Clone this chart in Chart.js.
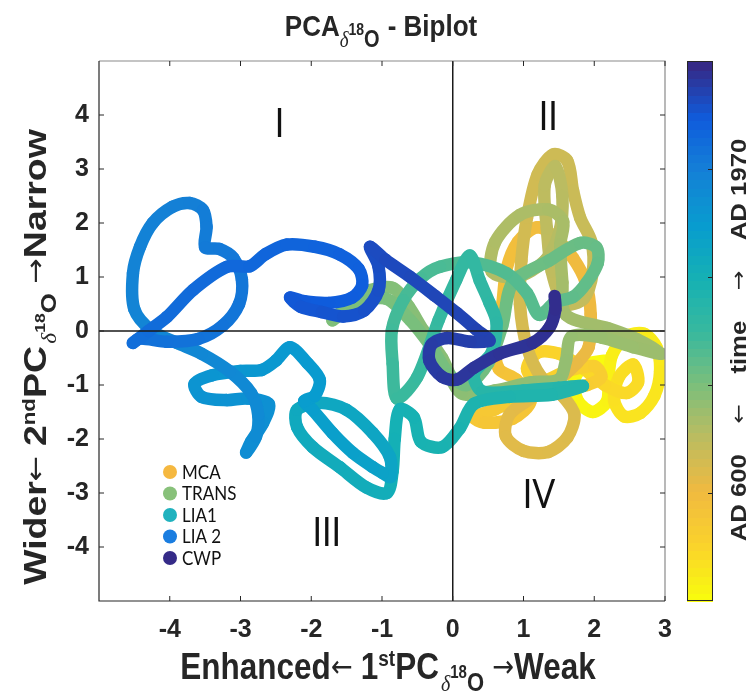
<!DOCTYPE html>
<html>
<head>
<meta charset="utf-8">
<script src="https://cdn.jsdelivr.net/npm/chart.js@4.4.0/dist/chart.umd.min.js"></script>
<style>
html, body { margin: 0; padding: 0; background: #fff; }
#wrap { width: 747px; height: 697px; }
</style>
</head>
<body>
<div id="wrap"><canvas id="biplot"></canvas></div>
<script>
// PCA d18O biplot - trajectory coloured by time (AD 600 -> AD 1970)

// legend categories
const eraNames = ['MCA', 'TRANS', 'LIA1', 'LIA 2', 'CWP'];
const eraColours = ['#f5b840', '#88c17a', '#20b2be', '#1a7de0', '#352b88'];
// years covered by each stretch of the trajectory
const eraFrom = [600, 900, 1215, 1560, 1860];
const eraTo = [900, 1215, 1560, 1860, 1970];

// trajectory (1st PC, 2nd PC)
const mcaX = [2.15,1.88,1.72,1.77,1.98,2.18,2.2,2.25,2.45,2.7,2.88,2.93,2.85,2.65,2.42,2.28,2.35,2.55,2.62,2.45,2.15,1.85,1.5,1.2,1.05,1.2,1.6,2.0,2.1,1.9,1.45,1.0,0.6,0.3,0.45,0.85,1.1,0.9,0.65,0.6,0.7,0.76,0.92,1.2,1.47,1.7,1.88,1.95,1.92,1.75];
const mcaY = [-0.55,-0.62,-0.9,-1.3,-1.5,-1.3,-0.9,-0.45,-0.1,-0.05,-0.3,-0.75,-1.2,-1.52,-1.58,-1.28,-0.85,-0.62,-0.95,-1.15,-1.0,-0.7,-0.42,-0.4,-0.7,-0.95,-0.75,-0.65,-0.85,-1.0,-1.1,-1.2,-1.45,-1.6,-1.7,-1.62,-1.3,-0.9,-0.7,-0.2,0.5,1.15,1.65,1.92,1.7,1.35,0.9,0.3,-0.3,-0.6];

const transX = [1.45,1.1,0.8,0.75,1.0,1.35,1.62,1.72,1.55,1.25,1.05,0.95,0.97,1.05,1.2,1.42,1.62,1.7,1.8,1.96,1.98,1.85,1.58,1.4,1.33,1.3,1.45,1.55,1.5,1.3,0.9,0.55,0.6,0.95,1.35,1.56,1.52,1.55,1.6,2.2,2.6,2.95,2.55,2.1,1.68,1.6,1.5,1.1,0.6,0.12,-0.15,-0.42,-0.62,-0.85,-1.22,-1.7,-1.35,-0.95,-0.6,-0.3,-0.05,0.2,0.5,0.7,0.85,1.37,1.8,2.03,2.05,1.89,1.7,1.45];
const transY = [-0.95,-1.25,-1.55,-1.95,-2.22,-2.24,-1.97,-1.55,-1.2,-0.85,-0.3,0.5,1.3,2.1,2.9,3.27,3.15,2.6,2.1,1.65,1.1,0.6,0.5,1.1,1.9,2.7,3.05,2.5,1.8,1.3,1.0,1.1,1.65,2.15,2.25,2.03,1.6,0.9,0.3,0.05,-0.15,-0.42,-0.3,-0.12,-0.1,-0.55,-0.9,-0.95,-1.1,-1.15,-0.5,0.02,0.45,0.8,0.72,0.2,0.5,0.6,0.2,-0.3,-0.8,-1.0,-0.6,0.1,0.9,1.31,1.63,1.55,1.26,0.89,0.63,0.55];

const lia1X = [1.45,1.22,1.05,0.76,0.28,-0.18,-0.45,-0.7,-0.86,-0.85,-0.79,-0.5,-0.2,0.05,0.24,0.38,0.52,0.62,0.55,0.3,0.42,1.0,1.5,1.84,1.4,0.8,0.3,0.1,-0.15,-0.45,-0.55,-0.75,-0.82,-0.85,-0.93,-1.22,-1.6,-1.98,-2.2,-2.2,-1.88,-1.5,-1.13,-0.89,-0.88,-0.99,-1.13,-1.41,-1.7,-1.98,-2.1];
const lia1Y = [0.55,0.3,0.7,1.07,1.27,1.19,0.98,0.57,0.02,-0.6,-1.25,-0.85,0.2,0.95,1.4,0.94,0.52,0.15,-0.4,-0.8,-1.12,-1.1,-1.05,-1.02,-1.18,-1.22,-1.35,-1.8,-2.15,-2.05,-1.6,-1.45,-2.0,-2.6,-3.0,-2.9,-2.52,-2.15,-1.78,-1.46,-1.33,-1.46,-1.89,-2.33,-2.7,-2.63,-2.52,-2.26,-1.89,-1.46,-1.3];

const lia2X = [-1.95,-1.88,-2.05,-2.3,-2.5,-2.7,-3.0,-3.4,-3.65,-3.55,-3.2,-2.9,-2.6,-2.68,-2.85,-2.92,-2.78,-2.75,-2.85,-3.15,-3.55,-3.9,-4.25,-4.5,-4.52,-4.42,-4.24,-3.96,-3.72,-3.53,-3.48,-3.5,-3.3,-3.1,-2.98,-3.02,-3.25,-3.6,-4.04,-4.42,-4.52,-4.3,-4.04,-3.67,-3.19,-2.87,-2.65,-2.35,-1.95,-1.6,-1.33,-1.28,-1.42,-1.75,-2.1,-2.3,-2.15,-1.85];
const lia2Y = [-1.2,-0.9,-0.6,-0.3,-0.55,-0.72,-0.74,-0.82,-0.98,-1.22,-1.28,-1.25,-1.35,-1.7,-2.05,-2.25,-1.95,-1.55,-1.15,-0.75,-0.42,-0.22,0.0,0.4,1.07,1.56,2.0,2.3,2.37,2.24,1.93,1.55,1.52,1.35,0.95,0.5,0.1,-0.15,-0.2,-0.14,-0.22,0.0,0.26,0.76,1.19,1.2,1.42,1.6,1.56,1.42,1.15,0.85,0.62,0.52,0.55,0.62,0.45,0.35];

const cwpX = [-1.55,-1.25,-1.05,-1.05,-1.17,-0.95,-0.6,-0.25,0.06,0.34,0.52,0.25,-0.08,-0.3,-0.33,-0.15,0.06,0.3,0.66,1.13,1.37,1.45,1.44];
const cwpY = [0.27,0.38,0.75,1.2,1.56,1.32,1.0,0.65,0.33,0.02,-0.18,-0.2,-0.13,-0.25,-0.55,-0.85,-0.9,-0.68,-0.42,-0.22,0.07,0.4,0.65];

const xTicks = [-4, -3, -2, -1, 0, 1, 2, 3];
const yTicks = [-4, -3, -2, -1, 0, 1, 2, 3, 4];
const quadrants = ['I', 'II', 'III', 'IV'];

// parula colour map
const parulaStops = [
  [0.0, 53, 42, 135], [0.1, 15, 92, 221], [0.2, 20, 129, 214], [0.3, 8, 156, 207],
  [0.4, 21, 177, 180], [0.5, 56, 185, 158], [0.6, 124, 191, 123], [0.7, 188, 188, 96],
  [0.8, 240, 186, 64], [0.9, 250, 210, 44], [1.0, 249, 251, 14]
];
function parula(v) {
  v = Math.max(0, Math.min(1, v));
  for (let i = 1; i < parulaStops.length; i++) {
    const a = parulaStops[i - 1], b = parulaStops[i];
    if (v <= b[0]) {
      const f = (v - a[0]) / (b[0] - a[0]);
      const c = [1, 2, 3].map(k => Math.round(a[k] + (b[k] - a[k]) * f));
      return 'rgb(' + c.join(',') + ')';
    }
  }
  return 'rgb(249,251,14)';
}
// early = yellow, late = dark blue
function timeColour(year) {
  return parula(1 - (year - 600) / (1970 - 600));
}

// put the era pieces together in time order
const pieces = [[mcaX, mcaY], [transX, transY], [lia1X, lia1Y], [lia2X, lia2Y], [cwpX, cwpY]];
const points = [];
const pointColours = [];
pieces.forEach(function (p, e) {
  const n = Math.min(p[0].length, p[1].length);
  for (let i = 0; i < n; i++) {
    points.push({ x: p[0][i], y: p[1][i] });
    pointColours.push(timeColour(eraFrom[e] + (eraTo[e] - eraFrom[e]) * i / n));
  }
});

const boldFont = '"Liberation Sans", Arial, sans-serif';
const arrowFont = '"DejaVu Sans", sans-serif';
const stretch = 1.17; // the figure's lettering is a little taller than wide

// text with sub / superscripts: parts = [text, font, baseline shift, extra gap after]
function drawRich(ctx, parts, cx, cy, rot) {
  ctx.save();
  ctx.translate(cx, cy);
  ctx.scale(1, stretch);
  ctx.rotate(rot);
  ctx.textBaseline = 'alphabetic';
  ctx.textAlign = 'left';
  let total = 0;
  const widths = parts.map(function (p) {
    ctx.font = p[1];
    const w = ctx.measureText(p[0]).width + (p[3] || 0);
    total += w;
    return w;
  });
  let x = -total / 2;
  parts.forEach(function (p, i) {
    ctx.font = p[1];
    ctx.fillText(p[0], x, p[2]);
    x += widths[i];
  });
  ctx.restore();
}

function axisTitle(left, right, num, sup, size) {
  return [
    [left, 'bold ' + size + 'px ' + boldFont, 0],
    ['\u2190 ', '26px ' + arrowFont, -2],
    [num, 'bold ' + size + 'px ' + boldFont, 0],
    [sup, 'bold 19px ' + boldFont, -11],
    ['PC', 'bold ' + size + 'px ' + boldFont, 0, 2],
    ['\u03b4', 'italic 20px "Liberation Serif", serif', 10],
    ['18', 'bold 15px ' + boldFont, -1],
    ['O', 'bold 22px ' + boldFont, 10],
    [' \u2192', '26px ' + arrowFont, -2],
    [right, 'bold ' + size + 'px ' + boldFont, 0]
  ];
}

const decor = {
  id: 'decor',
  afterDatasetsDraw(chart) {
    const ctx = chart.ctx, a = chart.chartArea;
    const xs = chart.scales.x, ys = chart.scales.y;
    ctx.save();
    // zero lines
    ctx.strokeStyle = '#1a1a1a';
    ctx.lineWidth = 1.5;
    ctx.beginPath();
    ctx.moveTo(a.left, ys.getPixelForValue(0));
    ctx.lineTo(a.right, ys.getPixelForValue(0));
    ctx.moveTo(xs.getPixelForValue(0), a.top);
    ctx.lineTo(xs.getPixelForValue(0), a.bottom);
    ctx.stroke();
    // box
    ctx.lineWidth = 1.2;
    ctx.strokeStyle = '#8a8a8a';
    ctx.beginPath();
    ctx.moveTo(a.left, a.top); ctx.lineTo(a.right, a.top); ctx.lineTo(a.right, a.bottom);
    ctx.stroke();
    ctx.strokeStyle = '#262626';
    ctx.beginPath();
    ctx.moveTo(a.left, a.top); ctx.lineTo(a.left, a.bottom); ctx.lineTo(a.right, a.bottom);
    ctx.stroke();
    // inward ticks
    ctx.lineWidth = 1;
    ctx.beginPath();
    xTicks.forEach(function (v) {
      const px = xs.getPixelForValue(v);
      ctx.moveTo(px, a.bottom); ctx.lineTo(px, a.bottom - 5);
      ctx.moveTo(px, a.top); ctx.lineTo(px, a.top + 5);
    });
    yTicks.forEach(function (v) {
      const py = ys.getPixelForValue(v);
      ctx.moveTo(a.left, py); ctx.lineTo(a.left + 5, py);
      ctx.moveTo(a.right, py); ctx.lineTo(a.right - 5, py);
    });
    ctx.stroke();
    // quadrant numbers
    ctx.fillStyle = '#111';
    const qx = [-2.45, 1.35, -1.78, 1.22], qy = [3.6, 3.72, -3.98, -3.28];
    quadrants.forEach(function (q, i) {
      drawRich(ctx, [[q, '34px Lato, "Open Sans", sans-serif', 0]], xs.getPixelForValue(qx[i]), ys.getPixelForValue(qy[i]), 0);
    });
    // legend
    eraNames.forEach(function (name, i) {
      const y = a.bottom - 129 + i * 21.5;
      ctx.fillStyle = eraColours[i];
      ctx.beginPath();
      ctx.arc(a.left + 71, y, 7, 0, Math.PI * 2);
      ctx.fill();
      ctx.fillStyle = '#111';
      ctx.save();
      ctx.translate(a.left + 83, y + 6.5);
      ctx.scale(1, stretch);
      ctx.font = '17px Lato, "Open Sans", sans-serif';
      ctx.textAlign = 'left';
      ctx.textBaseline = 'alphabetic';
      ctx.fillText(name, 0, 0);
      ctx.restore();
    });
    ctx.restore();
  },
  afterDraw(chart) {
    const ctx = chart.ctx, a = chart.chartArea;
    ctx.save();
    // colour bar
    const x0 = 687, w = 26, h = a.bottom - a.top;
    const steps = 64;
    for (let i = 0; i < steps; i++) {
      ctx.fillStyle = parula(1 - i / (steps - 1));
      const y1 = a.bottom - (i + 1) * h / steps;
      ctx.fillRect(x0, Math.floor(y1), w, Math.ceil(h / steps) + 1);
    }
    ctx.strokeStyle = '#262626';
    ctx.lineWidth = 1;
    ctx.strokeRect(x0 + 0.5, a.top + 0.5, w - 1, h - 1);
    ctx.beginPath();
    [0.2, 0.4, 0.6, 0.8].forEach(function (f) {
      const y = Math.round(a.bottom - f * h) + 0.5;
      ctx.moveTo(x0 + w, y); ctx.lineTo(x0 + w - 5, y);
    });
    ctx.stroke();
    ctx.fillStyle = '#262626';
    // colour bar label
    drawRich(ctx, [
      ['AD 600', 'bold 22px ' + boldFont, 0, 26],
      ['\u2190', '20px ' + arrowFont, -1, 26],
      ['time', 'bold 22px ' + boldFont, 0, 26],
      ['\u2192', '20px ' + arrowFont, -1, 26],
      ['AD 1970', 'bold 22px ' + boldFont, 0]
    ], 746, 340, -Math.PI / 2);
    // title
    drawRich(ctx, [
      ['PCA', 'bold 26px ' + boldFont, 0],
      ['\u03b4', 'italic 19px "Liberation Serif", serif', 9],
      ['18', 'bold 14px ' + boldFont, -1],
      ['O', 'bold 20px ' + boldFont, 9, 8],
      ['- Biplot', 'bold 26px ' + boldFont, 0]
    ], 381, 36, 0);
    // axis titles
    drawRich(ctx, axisTitle('Enhanced', 'Weak', '1', 'st', 31.5), 388, 679, 0);
    drawRich(ctx, axisTitle('Wider', 'Narrow', '2', 'nd', 32), 46, 357, -Math.PI / 2);
    ctx.restore();
  }
};

const ctxB = document.getElementById('biplot');
const biplot = new Chart(ctxB, {
  type: 'scatter',
  data: {
    datasets: [{
      label: 'trajectory',
      data: points,
      showLine: true,
      tension: 0.3,
      borderWidth: 12.5,
      borderCapStyle: 'round',
      borderJoinStyle: 'round',
      pointRadius: 0,
      segment: {
        borderColor: c => pointColours[c.p0DataIndex]
      }
    }]
  },
  options: {
    responsive: true,
    maintainAspectRatio: false,
    animation: false,
    layout: { padding: { top: 61, right: 82, left: 0, bottom: 0 } },
    scales: {
      x: {
        type: 'linear',
        min: -5,
        max: 3,
        afterBuildTicks: s => { s.ticks = xTicks.map(v => ({ value: v })); },
        afterFit: s => { s.height = 96; },
        grid: { display: false, drawTicks: false },
        border: { display: false },
        ticks: { color: '#262626', padding: 14, font: { family: boldFont, size: 25, weight: 'bold' } }
      },
      y: {
        type: 'linear',
        min: -5,
        max: 5,
        afterBuildTicks: s => { s.ticks = yTicks.map(v => ({ value: v })); },
        afterFit: s => { s.width = 99; },
        grid: { display: false, drawTicks: false },
        border: { display: false },
        ticks: { color: '#262626', padding: 10, font: { family: boldFont, size: 25, weight: 'bold' } }
      }
    },
    plugins: {
      legend: { display: false },
      tooltip: { enabled: false }
    }
  },
  plugins: [decor]
});
</script>
</body>
</html>
